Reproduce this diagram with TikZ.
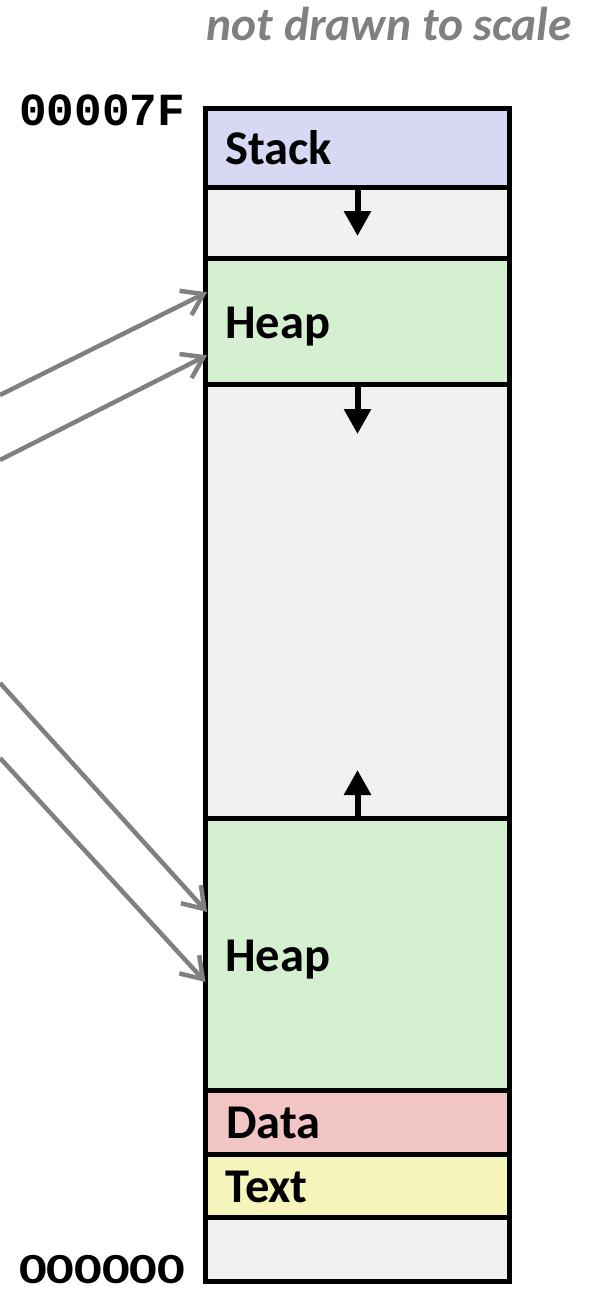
\documentclass[tikz,border=0pt]{standalone}
\usepackage{fontspec}
\setmainfont{Carlito}
\newfontfamily\codefont{Liberation Mono}
\usetikzlibrary{arrows.meta,calc}
\definecolor{stackc}{HTML}{D7D8F3}
\definecolor{heapc}{HTML}{D5F0D1}
\definecolor{datac}{HTML}{F2C5C5}
\definecolor{textc}{HTML}{F5F5BB}
\definecolor{freec}{HTML}{F1F1F1}
\definecolor{ptrgray}{HTML}{808080}
\begin{document}
\begin{tikzpicture}[x=1pt,y=-1pt,
  seg/.style={draw=black, line width=5pt, inner sep=0pt, outer sep=0pt,
              minimum width=304pt, anchor=north},
  lbl/.style={anchor=base west, inner sep=0pt, font=\fontsize{48.5}{52}\selectfont\bfseries},
  growarrow/.style={line width=6pt, -{Triangle[length=25pt,width=26pt]}},
  ptrarrow/.style={draw=ptrgray, line width=4.5pt, -{Straight Barb[length=20pt,width=27pt]}}]
\useasboundingbox (0,0) rectangle (592,1290);
\clip (0,0) rectangle (592,1290);
% segments
\node[seg, fill=stackc, minimum height=79pt]   (stack) at (357.5,108.5) {};
\node[seg, fill=freec,  minimum height=70.5pt] (gap1)  at (357.5,187.5) {};
\node[seg, fill=heapc,  minimum height=126.5pt](heap1) at (357.5,258) {};
\node[seg, fill=freec,  minimum height=433.5pt](gap2)  at (357.5,384.5) {};
\node[seg, fill=heapc,  minimum height=272pt]  (heap2) at (357.5,818) {};
\node[seg, fill=datac,  minimum height=64pt]   (data)  at (357.5,1090) {};
\node[seg, fill=textc,  minimum height=63pt]   (text)  at (357.5,1154) {};
\node[seg, fill=freec,  minimum height=64pt]   (empty) at (357.5,1217) {};
% labels
\node[lbl] (lstack) at (225,164) {Stack};
\node[lbl] (lheap1) at (225,338) {Heap};
\node[lbl] (lheap2) at (225,971) {Heap};
\node[lbl] (ldata)  at (226,1138) {Data};
\node[lbl] (ltext)  at (225,1202) {Text};
% title and addresses
\node[anchor=base east, inner sep=0pt, text=ptrgray,
      font=\fontsize{47.5}{52}\selectfont\bfseries\itshape] (title) at (572,41) {not drawn to scale};
\node[anchor=base west, inner sep=0pt, font=\fontsize{46}{50}\selectfont\codefont\bfseries] (top) at (19,125) {00007F};
\node[anchor=base west, inner sep=0pt, font=\fontsize{43}{48}\selectfont\bfseries] (bot) at (19,1283) {\scalebox{1.27}[1]{000000}};
% growth arrows
\coordinate (s1) at (357.5,236);
\coordinate (h1) at (357.5,434);
\coordinate (h2) at (357.5,770);
\draw[growarrow] (stack.south) -- (s1);
\draw[growarrow] (heap1.south) -- (h1);
\draw[growarrow] (heap2.north) -- (h2);
% pointers
\coordinate (p1) at (0,395);
\coordinate (p2) at (0,460);
\coordinate (p3) at (0,683);
\coordinate (p4) at (0,758);
\draw[ptrarrow] (p1) -- ([xshift=1.5pt,yshift=29pt]heap1.west);
\draw[ptrarrow] (p2) -- ([xshift=1.5pt,yshift=-34pt]heap1.west);
\draw[ptrarrow] (p3) -- ([xshift=1.5pt,yshift=42pt]heap2.west);
\draw[ptrarrow] (p4) -- ([yshift=-28pt]heap2.west);
\end{tikzpicture}
\end{document}
